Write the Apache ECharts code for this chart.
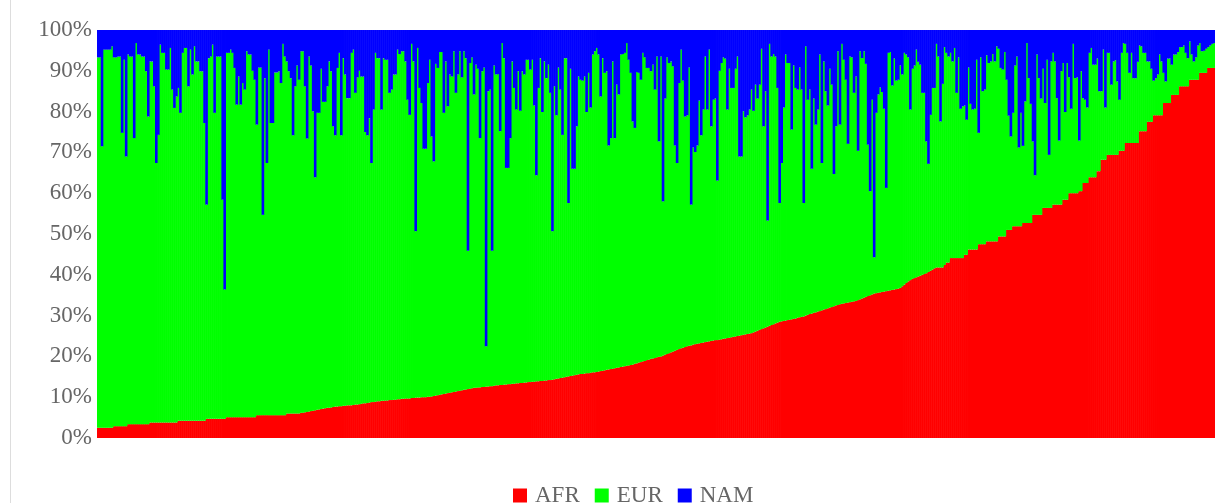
<!DOCTYPE html>
<html>
<head>
<meta charset="utf-8">
<script src="https://cdn.jsdelivr.net/npm/echarts@6/dist/echarts.min.js"></script>
<style>
  html, body { margin: 0; padding: 0; background: #fff; }
  #main { width: 1215px; height: 503px; }
  .edge { position: absolute; left: 10px; top: 0; width: 1px; height: 503px; background: #ddd; }
</style>
</head>
<body>
<div class="edge"></div>
<div id="main"></div>
<script>
// ancestry share per sample (%), samples sorted by AFR
const afr = [
  2.5,2.5,2.5,2.5,2.5,2.5,2.5,2.5,2.9,2.9,
  2.9,2.9,2.9,2.9,2.9,3.4,3.4,3.4,3.4,3.4,
  3.4,3.4,3.4,3.4,3.4,3.4,3.8,3.8,3.8,3.8,
  3.8,3.8,3.8,3.8,3.8,3.8,3.8,3.8,3.8,3.8,
  4.2,4.2,4.2,4.2,4.2,4.2,4.2,4.2,4.2,4.2,
  4.2,4.2,4.2,4.2,4.7,4.7,4.7,4.7,4.7,4.7,
  4.7,4.7,4.7,4.7,5.1,5.1,5.1,5.1,5.1,5.1,
  5.1,5.1,5.1,5.1,5.1,5.1,5.1,5.1,5.1,5.6,
  5.6,5.6,5.6,5.6,5.6,5.6,5.6,5.6,5.6,5.6,
  5.6,5.6,5.6,5.6,6.0,6.0,6.0,6.0,6.0,6.0,
  6.0,6.2,6.2,6.3,6.4,6.5,6.6,6.7,6.8,6.9,
  7.0,7.1,7.2,7.3,7.4,7.4,7.5,7.6,7.7,7.7,
  7.8,7.8,7.9,7.9,8.0,8.0,8.0,8.1,8.2,8.2,
  8.3,8.4,8.5,8.5,8.6,8.7,8.8,8.8,8.9,9.0,
  9.0,9.1,9.1,9.2,9.2,9.3,9.3,9.4,9.4,9.5,
  9.5,9.6,9.6,9.7,9.7,9.7,9.8,9.8,9.9,9.9,
  9.9,10.0,10.0,10.0,10.1,10.1,10.2,10.3,10.4,10.5,
  10.6,10.7,10.8,10.9,11.0,11.1,11.2,11.3,11.4,11.5,
  11.6,11.7,11.8,11.9,12.0,12.1,12.2,12.3,12.3,12.4,
  12.4,12.5,12.5,12.6,12.6,12.7,12.7,12.8,12.9,12.9,
  13.0,13.0,13.1,13.1,13.2,13.2,13.3,13.3,13.4,13.4,
  13.5,13.5,13.6,13.6,13.7,13.7,13.8,13.8,13.9,13.9,
  14.0,14.0,14.1,14.1,14.2,14.2,14.3,14.4,14.5,14.6,
  14.7,14.8,14.9,15.0,15.1,15.2,15.3,15.4,15.5,15.6,
  15.7,15.7,15.8,15.9,15.9,16.0,16.1,16.1,16.2,16.3,
  16.4,16.5,16.6,16.7,16.8,16.9,17.0,17.1,17.2,17.3,
  17.4,17.5,17.6,17.7,17.8,17.9,18.0,18.2,18.3,18.5,
  18.6,18.8,18.9,19.1,19.2,19.4,19.5,19.6,19.8,19.9,
  20.0,20.2,20.4,20.6,20.8,21.0,21.2,21.4,21.6,21.8,
  22.0,22.1,22.3,22.5,22.6,22.7,22.9,23.0,23.1,23.2,
  23.3,23.4,23.5,23.6,23.7,23.8,23.9,24.0,24.0,24.1,
  24.2,24.3,24.4,24.5,24.6,24.7,24.8,24.9,25.0,25.1,
  25.2,25.3,25.4,25.5,25.6,25.7,25.9,26.1,26.3,26.5,
  26.7,26.9,27.1,27.3,27.5,27.7,27.9,28.1,28.3,28.5,
  28.6,28.7,28.8,28.9,29.0,29.1,29.2,29.3,29.5,29.6,
  29.7,29.8,30.0,30.2,30.4,30.5,30.7,30.8,31.0,31.1,
  31.3,31.5,31.6,31.8,32.0,32.1,32.3,32.5,32.6,32.8,
  32.9,33.0,33.1,33.2,33.3,33.4,33.5,33.6,33.8,34.0,
  34.2,34.4,34.6,34.8,35.0,35.2,35.4,35.5,35.6,35.7,
  35.8,35.9,36.0,36.1,36.2,36.3,36.4,36.5,36.6,36.8,
  37.2,37.6,38.0,38.4,38.7,39.0,39.2,39.4,39.6,39.8,
  40.0,40.2,40.4,40.7,41.0,41.3,41.6,41.8,41.8,41.8,
  41.8,42.4,43.0,43.0,44.1,44.1,44.1,44.1,44.1,44.1,
  44.1,44.9,44.9,46.2,46.2,46.2,46.2,46.2,47.5,47.5,
  47.5,47.5,48.2,48.2,48.2,48.2,48.2,48.2,49.4,49.4,
  49.4,49.4,51.0,51.0,51.0,51.9,51.9,51.9,51.9,51.9,
  52.7,52.7,52.7,52.7,52.7,54.7,54.7,54.7,54.7,54.7,
  56.4,56.4,56.4,56.4,56.4,57.2,57.2,57.2,57.2,57.2,
  58.4,58.4,58.4,60.0,60.0,60.0,60.0,60.0,60.5,60.5,
  62.5,62.5,62.5,63.9,63.9,63.9,63.9,65.4,65.4,68.2,
  68.2,68.2,69.4,69.4,69.4,69.4,69.4,69.4,70.4,70.4,
  70.4,72.3,72.3,72.3,72.3,72.3,72.3,72.3,75.2,75.2,
  75.2,75.2,77.5,77.5,77.5,79.1,79.1,79.1,79.1,79.1,
  82.1,82.1,82.1,82.1,84.1,84.1,84.1,84.1,86.2,86.2,
  86.2,86.2,86.2,87.8,87.8,87.8,87.8,87.8,89.5,89.5,
  89.5,89.5,90.7,90.7,90.7,90.7
];

const nam = [
  6.7,6.7,28.5,4.8,4.8,4.8,4.8,4.0,6.7,6.7,6.5,6.5,25.2,7.3,31.0,6.0,6.5,6.5,26.5,3.2,
  6.0,6.0,6.5,6.5,10.1,21.2,7.7,7.7,13.8,32.6,25.7,3.6,5.6,5.6,9.7,9.7,4.4,14.6,19.1,16.3,
  14.2,20.3,5.6,4.4,4.4,13.8,4.8,10.9,4.0,7.7,7.7,10.1,10.1,22.8,42.8,6.9,6.5,3.6,20.3,6.5,
  6.5,6.5,41.6,63.6,5.6,5.6,4.8,5.6,9.3,18.3,
  11.4,18.3,13.0,14.6,5.2,6.0,6.0,10.0,12.2,23.2,9.2,9.2,45.3,11.8,32.6,4.8,22.8,22.8,10.4,10.4,
  10.1,13.0,3.4,6.5,7.7,10.1,11.8,25.8,13.8,8.7,12.2,5.2,5.2,13.8,26.6,6.5,8.7,19.9,36.1,20.3,
  20.3,9.5,17.6,17.6,13.8,7.7,10.1,23.6,25.8,9.3,5.6,25.8,6.9,10.9,16.7,16.7,5.6,4.8,15.4,11.6,
  10.0,11.4,11.4,25.0,25.8,21.6,32.6,19.5,5.6,6.9,
  6.9,19.5,6.9,7.3,7.3,15.4,14.6,10.9,10.9,4.8,5.9,5.2,5.2,7.7,17.1,20.8,3.4,7.7,49.3,4.4,
  14.2,17.9,29.1,29.1,13.0,7.3,26.1,32.2,8.3,9.3,5.4,5.4,20.3,7.7,18.7,10.9,11.4,5.2,15.4,10.9,
  5.2,11.6,5.2,6.9,54.1,8.1,6.7,15.8,8.5,9.5,26.5,10.1,9.2,77.5,15.0,14.6,54.1,8.7,10.9,10.8,
  24.8,3.2,6.9,33.8,33.8,26.5,7.7,14.2,19.5,10.1,
  19.8,10.1,10.9,7.3,7.3,9.7,7.3,18.5,35.6,14.2,6.9,20.1,7.7,11.8,8.5,15.4,49.3,13.8,20.9,9.2,
  14.6,25.7,6.9,6.9,42.4,9.5,34.0,34.0,23.6,11.4,12.2,12.4,11.4,20.1,10.5,19.0,6.0,5.2,4.4,6.0,
  16.3,6.9,10.5,10.1,28.3,26.5,7.7,26.5,13.4,15.8,6.0,5.9,5.6,3.2,7.3,10.5,22.4,24.0,10.3,10.5,
  12.2,5.6,6.7,9.3,9.3,10.1,8.5,14.6,6.5,27.3,
  6.5,42.0,16.8,6.7,8.1,7.7,8.9,28.3,32.6,13.0,4.8,12.4,21.2,20.9,9.2,42.8,28.8,29.9,28.3,17.3,
  25.8,19.5,6.5,19.5,4.8,23.6,17.1,16.8,36.9,10.0,8.1,6.7,7.0,19.5,9.5,14.2,14.2,9.5,6.5,31.0,
  31.0,19.9,21.4,20.9,19.5,14.6,19.8,13.4,16.8,13.4,4.6,23.6,15.0,46.7,3.4,6.5,5.9,6.5,14.2,42.4,
  32.6,19.0,6.0,8.1,8.1,24.4,8.7,14.2,14.6,
  9.2,14.6,42.4,4.0,17.1,14.6,34.0,16.8,23.2,19.5,6.0,32.6,7.7,15.0,18.5,9.5,13.4,35.3,23.6,5.2,
  23.2,3.4,7.3,12.2,27.9,6.5,6.7,15.4,11.4,29.6,5.2,6.9,5.2,8.3,28.1,39.5,17.1,55.7,20.3,15.8,
  14.1,15.2,19.3,38.7,5.6,5.4,13.6,7.0,12.4,12.2,8.7,10.9,5.6,6.0,6.7,19.5,9.5,8.7,4.8,7.8,
  8.5,15.4,15.4,27.3,32.8,20.8,14.2,14.2,3.4,
  6.5,22.4,13.2,4.2,5.6,6.5,5.6,7.7,4.4,15.4,6.7,19.3,18.7,18.5,22.0,9.2,18.1,19.5,19.3,7.3,
  25.2,6.7,15.0,14.6,6.2,8.1,7.7,5.9,7.7,4.0,4.6,9.3,9.7,5.4,12.2,21.0,26.1,20.3,8.7,6.5,
  28.8,20.3,28.4,17.5,3.2,11.8,18.1,27.3,35.6,6.0,11.8,16.8,9.5,17.9,7.3,30.6,7.7,5.6,7.7,16.7,
  27.1,10.1,8.1,20.1,8.1,11.6,19.3,3.4,11.8,
  11.6,27.1,10.1,16.7,17.1,19.0,5.6,4.4,8.5,8.5,7.0,15.0,15.0,4.8,19.0,5.6,5.6,13.4,7.7,7.4,
  12.6,17.1,5.6,3.2,3.4,5.6,10.5,5.6,11.8,11.8,7.8,3.8,4.0,5.6,5.6,7.7,7.7,9.5,12.4,11.8,
  10.9,6.0,7.7,10.5,12.6,7.0,7.0,8.5,6.0,6.0,5.4,4.2,4.2,3.8,5.6,6.9,2.8,6.0,7.7,6.7,
  3.8,3.2,5.2,5.1,4.6,4.2,3.8,3.4,3.2
];

// EUR fills the rest of each 100% bar
const eur = afr.map((a, i) => Math.round((100 - a - nam[i]) * 10) / 10);
const samples = afr.map((a, i) => 'S' + (i + 1));

const yTicks = { min: 0, max: 100, interval: 10 };

const font = "'Liberation Serif', 'Times New Roman', serif";
const colors = ['#ff0000', '#00ff00', '#0000ff'];

function barSeries (name, data, color) {
  return {
    name: name,
    type: 'bar',
    stack: 'all',
    // a little wider than the category so neighbouring bars overlap (no seams)
    barWidth: 2.6,
    itemStyle: { color: color },
    data: data
  }
}

let myChart = echarts.init(document.getElementById('main'));
myChart.setOption({
  animation: false,
  color: colors,
  grid: {
    left: 97,
    right: 0,
    top: 30,
    bottom: 65
  },
  legend: {
    left: 508,
    top: 479,
    icon: 'rect',
    itemWidth: 14,
    itemHeight: 14,
    itemGap: 15,
    textStyle: {
      fontFamily: font,
      fontSize: 23,
      color: '#666',
      padding: [0, 0, 0, 3]
    },
    data: ['AFR', 'EUR', 'NAM']
  },
  xAxis: {
    type: 'category',
    data: samples,
    show: false
  },
  yAxis: {
    type: 'value',
    min: yTicks.min,
    max: yTicks.max,
    interval: yTicks.interval,
    axisLine: { show: false },
    axisTick: { show: false },
    splitLine: { show: false },
    axisLabel: {
      formatter: '{value}%',
      fontFamily: font,
      fontSize: 23,
      color: '#666',
      margin: 5,
      padding: [4, 0, 0, 0]
    }
  },
  series: [
    barSeries('AFR', afr, colors[0]),
    barSeries('EUR', eur, colors[1]),
    barSeries('NAM', nam, colors[2])
  ]
})
</script>
</body>
</html>
